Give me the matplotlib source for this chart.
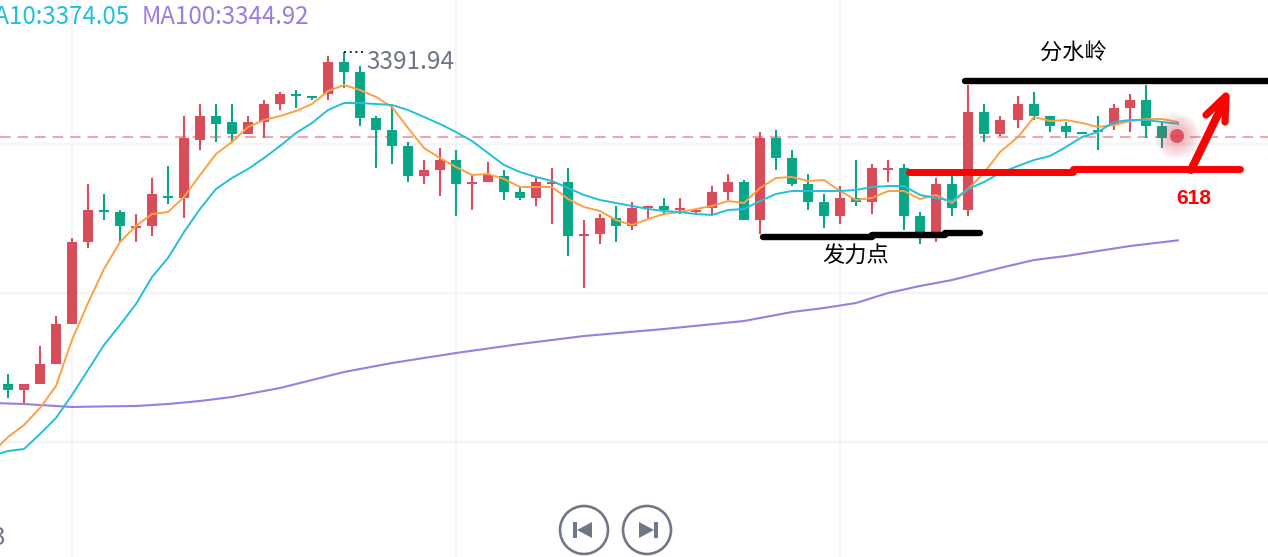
#!/usr/bin/env python
# -*- coding: utf-8 -*-
"""Candlestick chart with moving averages and hand-drawn support/resistance marks."""

import matplotlib

matplotlib.use("Agg")  # headless
import matplotlib.pyplot as plt
from matplotlib.patches import Circle, Polygon, Rectangle
import numpy as np

plt.rcParams["font.family"] = ["Noto Sans CJK SC", "DejaVu Sans"]

opens = [
    3309, 3307.5, 3309, 3314, 3324, 3344.5, 3352.5, 3352, 3348, 3348.5,
    3356, 3355.5, 3370, 3376, 3374.5, 3371.5, 3374.5, 3379, 3381.5, 3381,
    3381.5, 3389.5, 3387, 3375.5, 3372.5, 3368.5, 3361, 3362.5, 3365, 3359,
    3359.5, 3361, 3357, 3355.5, 3359, 3359.5, 3346, 3346.5, 3350.5, 3348.5,
    3353, 3353.5, 3352.5, 3352, 3353, 3357, 3359.5, 3350, 3370.5, 3365.5,
    3359, 3354.5, 3351, 3355.5, 3354.5, 3362.5, 3363, 3351, 3347, 3359,
    3352.5, 3377, 3371.5, 3375, 3379, 3376, 3373.5, 3372, 3372.5, 3373.75,
    3378, 3380, 3373.5, 3370.75,
]
closes = [
    3307.5, 3309, 3314, 3324, 3344.5, 3352.5, 3352, 3348.5, 3348.5, 3356.5,
    3355.5, 3370.5, 3376, 3374, 3371.5, 3374.5, 3379, 3381.5, 3381, 3380.5,
    3389.5, 3387, 3375.5, 3372.5, 3368.5, 3361, 3362.5, 3365, 3359, 3359.5,
    3361.25, 3357, 3355.5, 3359.5, 3359.5, 3346, 3346.5, 3350.5, 3348.5, 3353,
    3353.5, 3352.5, 3353, 3352.5, 3357, 3359.5, 3350, 3370.5, 3365.5, 3359,
    3354.5, 3351, 3355.5, 3354.5, 3363, 3363, 3351, 3347, 3359, 3353,
    3377, 3371.5, 3375, 3379, 3376, 3373.5, 3372, 3371.5, 3372, 3378,
    3380, 3373.5, 3370.5, 3371.25,
]
highs = [
    3311.5, 3309, 3318.5, 3326, 3345.5, 3359, 3356.5, 3352.5, 3351.5, 3360.5,
    3363.5, 3376, 3379, 3379, 3379, 3376, 3380, 3382, 3382.5, 3381,
    3391, 3391.94, 3388.5, 3376, 3378.25, 3369.5, 3365, 3368, 3367.5, 3361.25,
    3364.5, 3362.5, 3358.5, 3360.5, 3363, 3363, 3350, 3351.5, 3353.5, 3354.5,
    3353.5, 3355.5, 3355.5, 3352.75, 3358.5, 3361.5, 3360, 3372, 3372.5, 3367.5,
    3361.5, 3356.5, 3358.5, 3365, 3364, 3365, 3364, 3352, 3360.5, 3361.25,
    3383.75, 3379, 3376, 3381, 3382, 3376, 3374.5, 3372, 3376, 3379,
    3381.5, 3383.75, 3374.25, 3371.5,
]
lows = [
    3305.5, 3303.75, 3309, 3314, 3324, 3343, 3350, 3344.5, 3344.5, 3346,
    3354, 3350.5, 3367.5, 3369.5, 3369.5, 3371.5, 3370.5, 3377.5, 3378, 3380,
    3380, 3383, 3373.5, 3363, 3364, 3359.5, 3359, 3356, 3351, 3352.5,
    3359.5, 3355, 3355, 3353.5, 3349, 3341, 3333, 3344, 3344.5, 3347.5,
    3350.5, 3351.5, 3351.5, 3351.75, 3351.5, 3355, 3350, 3346.5, 3362.5, 3358.5,
    3352.5, 3348, 3349, 3353.5, 3351.5, 3359.5, 3347.5, 3344, 3344.5, 3351,
    3351, 3369.5, 3371, 3373, 3375, 3372, 3370.5, 3371.5, 3367.5, 3372.5,
    3372, 3370.5, 3368, 3370.5,
]

# Moving averages start one bar left of the first candle (off canvas)
ma5 = [
    3291.75, 3295.75, 3298.75, 3303, 3308.5, 3320, 3329.25, 3337.75, 3344.5, 3348.5,
    3351.5, 3352, 3355.75, 3361.25, 3366.5, 3369.5, 3373.25, 3375, 3376, 3377.25,
    3379, 3382.25, 3383.75, 3382.5, 3380.75, 3378.25, 3373, 3368, 3365.5, 3363.25,
    3361.25, 3361.5, 3360.25, 3358.25, 3358.25, 3358.25, 3355.25, 3353.25, 3352.25, 3350,
    3348.75, 3350.25, 3351.5, 3352, 3352.75, 3353.5, 3354.75, 3354.25, 3358, 3360.5,
    3360.75, 3359.75, 3360, 3357.25, 3355, 3355.5, 3357.25, 3357.25, 3355.25, 3356.25,
    3354.25, 3357.75, 3361.75, 3367, 3370.75, 3375.75, 3374.75, 3375, 3374.25, 3373.25,
    3373.75, 3374.75, 3375.25, 3375.25, 3374.5,
]
ma10 = [
    3291, 3292.25, 3292.75, 3296.5, 3300.5, 3306.25, 3312.5, 3318.75, 3323.75, 3329,
    3335.75, 3340.5, 3347, 3352.75, 3357.75, 3360.5, 3362.75, 3365.5, 3368.5, 3371.75,
    3374.25, 3377.5, 3379.25, 3379.25, 3379, 3378.75, 3377.5, 3375.75, 3374, 3372,
    3369.75, 3366.75, 3363.75, 3362, 3360.75, 3359.75, 3358, 3356.25, 3355, 3354.25,
    3353.5, 3352.75, 3352.25, 3352, 3351.5, 3351.25, 3352.5, 3352.75, 3354.75, 3356.5,
    3357.25, 3357.25, 3357.25, 3357.25, 3357.5, 3358.25, 3358.5, 3358.5, 3356.25, 3355.5,
    3354.75, 3357.75, 3359.5, 3361.75, 3363.5, 3365, 3366, 3368.25, 3370.75, 3372,
    3374.5, 3375, 3375, 3374.5, 3374.05,
]
ma100_idx = [-1, 1, 3, 4, 6, 8, 10, 12, 14, 17, 21, 24, 28, 32, 36, 41, 46, 49, 51, 53, 55, 57, 59, 62, 64, 66, 68, 70, 73]
ma100 = [
    3304.25, 3304, 3303.5, 3303.25, 3303.4, 3303.5, 3304, 3304.75, 3305.75, 3308, 3312, 3314.25,
    3316.75, 3319, 3321, 3322.75, 3324.75, 3327, 3328, 3329.25, 3331.75, 3333.5, 3335, 3338, 3340,
    3341, 3342.25, 3343.5, 3344.92,
]

last_price = 3370.75
grid_prices = [3369, 3331.75, 3294.5]
grid_bars = [3.97, 27.97, 51.97]
peak_idx = 21
peak_label = "3391.94"
ma_labels = [("MA10:3374.05", "#22bfdc"), ("MA100:3344.92", "#9b7ce4")]

UP = "#d94c59"
DOWN = "#0aa688"
ORANGE = "#ff9f43"
CYAN = "#22bfdc"
PURPLE = "#9b7ce4"
GRID = "#f3f4f9"
GREY = "#6f7686"
MARK_RED = "#ff0000"

W, H = 1268, 557
PX_PER_BAR = 16.0
PX_PER_UNIT = 4.0
SEAM_BAR = 63  # bars from here on sit 2 px further right in the capture


def bar_x(idx):
    idx = np.asarray(idx, dtype=float)
    return idx + np.where(idx >= SEAM_BAR, 2 / PX_PER_BAR, 0.0)


def draw_candles(ax):
    x = bar_x(np.arange(len(opens)))
    o = np.asarray(opens)
    c = np.asarray(closes)
    colors = [UP if b >= a else DOWN for a, b in zip(o, c)]
    ax.vlines(x, lows, highs, colors=colors, linewidth=1.5, zorder=3)
    ax.bar(x, np.abs(c - o), bottom=np.minimum(o, c), width=0.625, color=colors, linewidth=0, zorder=3)


def draw_marks(ui):
    # Hand-drawn strokes, in screen pixels
    stroke = dict(solid_capstyle="round", solid_joinstyle="round", zorder=6)
    ui.plot([965, 1268], [81, 81], color="black", linewidth=4.6, **stroke)
    ui.plot([763, 872, 872, 945, 945, 980], [236.5, 236.5, 235, 235, 233, 233], color="black", linewidth=4.6, **stroke)
    ui.plot([909, 1073, 1073, 1240], [171.5, 171.5, 168.5, 168.5], color=MARK_RED, linewidth=5, **stroke)
    ui.plot([1191, 1225], [170, 100], color=MARK_RED, linewidth=5.8, **stroke)
    ui.plot([1206, 1226, 1225], [115, 96, 122], color=MARK_RED, linewidth=5.2, **stroke)
    ui.text(1073, 53, "分水岭", fontsize=16, color="black", ha="center", va="center", zorder=7)
    ui.text(856, 255, "发力点", fontsize=16, color="black", ha="center", va="center", zorder=7)
    ui.text(1194, 198, "618", fontsize=15, color=MARK_RED, fontweight="bold",
            family=["Liberation Sans", "DejaVu Sans"], ha="center", va="center", zorder=7)


def draw_pulse(ui):
    # Blurred halo round the last price
    for r in np.arange(23, 6, -2.0):
        ui.add_patch(Circle((1177, 136), r, facecolor=UP, edgecolor="none", alpha=0.05, zorder=5))
    ui.add_patch(Circle((1177, 136), 7, facecolor=UP, edgecolor="none", alpha=0.9, zorder=5))


def draw_buttons(ui):
    for cx, flip in [(584, 1), (647, -1)]:
        ui.add_patch(Circle((cx, 530), 24, facecolor="white", edgecolor=GREY, linewidth=1.9, zorder=6))
        # bar plus triangle, mirrored for the second button
        ui.add_patch(Rectangle((cx - flip * 9 - 2, 522), 4, 16, facecolor=GREY, edgecolor="none", zorder=7))
        ui.add_patch(Polygon([(cx - flip * 7, 530), (cx + flip * 8, 522), (cx + flip * 8, 538)],
                             closed=True, facecolor=GREY, edgecolor="none", zorder=7))


def main():
    fig = plt.figure(figsize=(W / 100, H / 100), dpi=100, facecolor="white")

    ax = fig.add_axes([0, 0, 1, 1])
    ax.set_xlim(-8 / PX_PER_BAR, (W - 8) / PX_PER_BAR)
    ax.set_ylim(3405 - H / PX_PER_UNIT, 3405)
    ax.axis("off")

    for p in grid_prices:
        ax.axhline(p, color=GRID, linewidth=1.6, zorder=1)
    for b in grid_bars:
        ax.axvline(b, color=GRID, linewidth=1.6, zorder=1)
    ax.axhline(last_price, color="#eea3aa", linewidth=1.4, dashes=(5.5, 3.5), zorder=2)

    draw_candles(ax)

    ma_x = bar_x(np.arange(-1, len(ma5) - 1))
    ax.plot(bar_x(ma100_idx), ma100, color=PURPLE, linewidth=1.5, zorder=4)
    ax.plot(ma_x, ma5, color=ORANGE, linewidth=1.4, zorder=4)
    ax.plot(ma_x, ma10, color=CYAN, linewidth=1.4, zorder=4)

    # Peak label with its dotted leader
    ax.plot([peak_idx, peak_idx + 1.3], [highs[peak_idx]] * 2, color="black", linewidth=1.2,
            linestyle=(0, (1.2, 2.2)), zorder=4)
    ax.text(peak_idx + 1.42, highs[peak_idx] - 2.4, peak_label, fontsize=17.5, color=GREY, va="center", zorder=5)

    # Overlay in screen pixels for the legend, drawn marks and buttons
    ui = fig.add_axes([0, 0, 1, 1])
    ui.set_xlim(0, W)
    ui.set_ylim(H, 0)
    ui.axis("off")
    ui.patch.set_alpha(0)

    ui.text(130, 17, ma_labels[0][0], fontsize=17.3, color=ma_labels[0][1], ha="right", va="center")
    ui.text(142, 17, ma_labels[1][0], fontsize=17.3, color=ma_labels[1][1], ha="left", va="center")
    ui.text(5, 538, "3", fontsize=17.5, color=GREY, ha="right", va="center")

    draw_pulse(ui)
    draw_marks(ui)
    draw_buttons(ui)

    fig.savefig("out.png", dpi=100)
    plt.close(fig)


if __name__ == "__main__":
    main()
